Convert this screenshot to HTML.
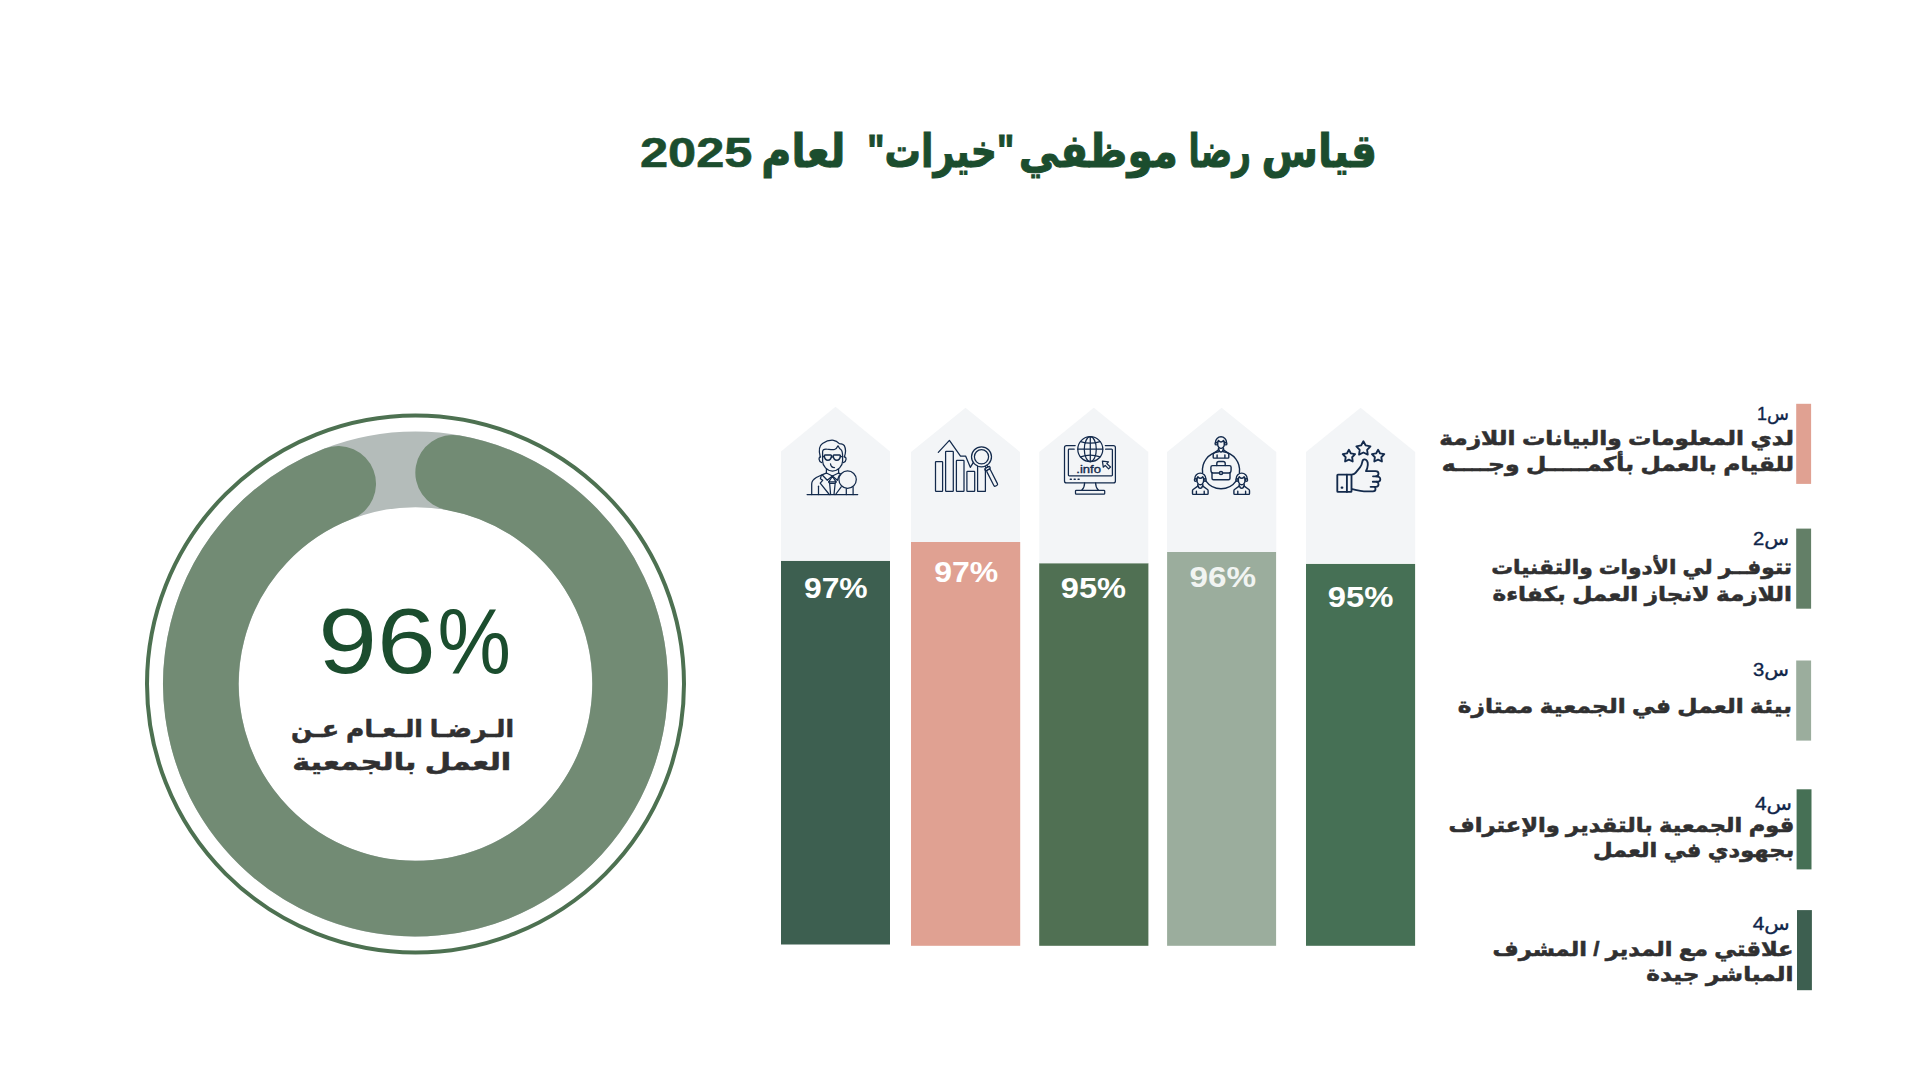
<!DOCTYPE html>
<html lang="ar">
<head>
<meta charset="utf-8">
<title>قياس رضا موظفي "خيرات" لعام 2025</title>
<style>
html,body{margin:0;padding:0;background:#fff;}
body{width:1920px;height:1080px;overflow:hidden;position:relative;font-family:"Liberation Sans","DejaVu Sans",sans-serif;}
.slide{position:absolute;left:0;top:0;width:1920px;height:1080px;background:#fff;overflow:hidden;}
svg{position:absolute;display:block;overflow:visible;}
svg text{font-family:"Liberation Sans","DejaVu Sans",sans-serif;}
.ar{font-weight:bold;fill:#303031;stroke:#303031;stroke-width:.55px;direction:rtl;}
.q{fill:#0f2549;stroke:#0f2549;stroke-width:.35px;direction:rtl;}
.pct{font-weight:bold;fill:#fff;}
.ico{fill:none;stroke:#132a4c;stroke-width:1.25;stroke-linecap:round;stroke-linejoin:round;}
</style>
</head>
<body>
<main class="slide">

<!-- TITLE -->
<svg id="title" style="left:600px;top:100px" width="820" height="120" viewBox="600 100 820 120" font-weight="bold" fill="#1b4d2e" stroke="#1b4d2e" stroke-width="1">
<g font-size="46" direction="rtl" lengthAdjust="spacingAndGlyphs">
<text x="1377" y="166.5" textLength="115.5" lengthAdjust="spacingAndGlyphs">قياس</text>
<text x="1251" y="166.5" textLength="62.4" lengthAdjust="spacingAndGlyphs">رضا</text>
<text x="1178" y="166.5" textLength="159.2" lengthAdjust="spacingAndGlyphs">موظفي</text>
<text x="1014.3" y="166.5" textLength="147.1" lengthAdjust="spacingAndGlyphs">"خيرات"</text>
<text x="845.5" y="166.5" textLength="84.2" lengthAdjust="spacingAndGlyphs">لعام</text>
</g>
<text x="640" y="167" font-size="42.5" textLength="112.5" lengthAdjust="spacingAndGlyphs" stroke-width=".6">2025</text>
</svg>

<!-- DONUT -->
<svg id="donut" style="left:120px;top:390px" width="600" height="590" viewBox="120 390 600 590">
<circle cx="415.5" cy="684" r="268.5" fill="none" stroke="#4d7151" stroke-width="4"/>
<circle cx="415.5" cy="684" r="214.6" fill="none" stroke="#b4bcba" stroke-width="75.6"/>
<path id="arc" d="M453.13,472.73 A214.6,214.6 0 1 1 338.24,483.79" fill="none" stroke="#728b74" stroke-width="75.6" stroke-linecap="round"/>
<text y="673.3" font-size="92" fill="#1b4d2e" lengthAdjust="spacingAndGlyphs"><tspan x="318.2" textLength="117.5" lengthAdjust="spacingAndGlyphs">96</tspan><tspan x="437.6" textLength="73.4" lengthAdjust="spacingAndGlyphs">%</tspan></text>
<text class="ar" x="514" y="737" font-size="24" textLength="223" lengthAdjust="spacingAndGlyphs">الـرضـا الـعـام عـن</text>
<text class="ar" x="511.2" y="769.5" font-size="24" textLength="219" lengthAdjust="spacingAndGlyphs">العمل بالجمعية</text>
</svg>

<!-- PENTAGONS + LABELS -->
<svg id="cols" style="left:770px;top:400px" width="660" height="560" viewBox="770 400 660 560">
<rect class="bar" x="781" y="560.8" width="109" height="383.7" fill="#3d5f50"/>
<rect class="bar" x="911" y="542" width="109.2" height="403.8" fill="#e0a192"/>
<rect class="bar" x="1039.2" y="563.2" width="109.2" height="382.6" fill="#507053"/>
<rect class="bar" x="1167.1" y="552" width="109" height="393.8" fill="#9bad9d"/>
<rect class="bar" x="1306" y="563.9" width="109.1" height="381.9" fill="#467055"/>
<polygon fill="#f3f5f7" points="781,560.8 781,451.5 835.5,406.8 890,451.5 890,560.8"/>
<polygon fill="#f3f5f7" points="911,542 911,452 965.5,407.7 1020,452 1020,542"/>
<polygon fill="#f3f5f7" points="1039.3,563.3 1039.3,452 1093.8,407.7 1148.3,452 1148.3,563.3"/>
<polygon fill="#f3f5f7" points="1167,552 1167,452 1221.6,407.7 1276.3,452 1276.3,552"/>
<polygon fill="#f3f5f7" points="1306,562.9 1306,452 1360.6,407.7 1415.2,452 1415.2,562.9"/>
<text class="pct" x="835.8" y="597.9" font-size="29.5" text-anchor="middle" textLength="63.7" lengthAdjust="spacingAndGlyphs">97%</text>
<text class="pct" x="966.3" y="582" font-size="29.5" text-anchor="middle" textLength="64" lengthAdjust="spacingAndGlyphs">97%</text>
<text class="pct" x="1093.4" y="597.9" font-size="29.5" text-anchor="middle" textLength="65.2" lengthAdjust="spacingAndGlyphs">95%</text>
<text class="pct" x="1222.8" y="587" font-size="29.5" text-anchor="middle" textLength="66.6" lengthAdjust="spacingAndGlyphs" style="fill:#f1f4f2">96%</text>
<text class="pct" x="1360.7" y="607" font-size="29.5" text-anchor="middle" textLength="65.7" lengthAdjust="spacingAndGlyphs">95%</text>
</svg>

<!-- ICONS -->

<!-- icon 1: employee with magnifier -->
<svg class="ico" style="left:800px;top:432px" width="70" height="70" viewBox="0 0 70 70">
<path d="M7.1 62.5H57.7"/>
<path d="M20.3 25C18.6 19 19.4 13.6 22.5 11.5C26 9.2 30 7.9 33.5 8.3C36 8.7 38 10.3 39.3 11.6C41.5 11.8 43.5 12.3 44.3 13.6C45.8 16.5 45.8 21 44.3 25"/>
<path d="M22.6 24.5V19.8C22.6 17.5 24 17 26 17C29 17.2 32 18.3 34.5 17.5C36.5 16.8 37.5 15 38 13.8C38.8 15.5 39.5 16.8 40.8 17.5C42.3 18.5 42.6 21 42.6 24.5"/>
<path d="M22.6 24.5V29C22.6 34 27 39 32.5 39C38 39 42.6 34 42.6 29V24.5"/>
<path d="M20.6 24.8C18.4 24.8 18.4 29.8 21.8 30.6M44.5 24.8C46.7 24.8 46.7 29.8 43.4 30.6"/>
<path d="M25.1 23.1H30.7C31.3 23.1 31.6 23.5 31.5 24.1C31.2 26.6 29.8 28.2 27.9 28.2C26 28.2 24.6 26.6 24.3 24.1C24.2 23.5 24.5 23.1 25.1 23.1Z" stroke-width="1.5"/>
<path d="M34 23.1H39.6C40.2 23.1 40.5 23.5 40.4 24.1C40.1 26.6 38.7 28.2 36.8 28.2C34.9 28.2 33.5 26.6 33.2 24.1C33.1 23.5 33.4 23.1 34 23.1Z" stroke-width="1.5"/>
<path d="M31.4 25.2Q32.4 24.4 33.4 25.2M22.6 24.5H24.4M40.4 24.5H42.6"/>
<path d="M30.5 31.8C30.8 34 32.5 35.5 34.5 35.5"/>
<path d="M26.4 37.3V41M38.6 37.3V41"/>
<path d="M26.4 41L32.4 44L38.6 41"/>
<path d="M22.5 43.2L27.3 48.3L32.4 44L37.3 48.3L39.5 43"/>
<path d="M26.4 41C20 43.5 11.7 46.5 11.7 52V62.5"/>
<path d="M18.5 54.2V62.5"/>
<path d="M21.4 43.2L20.4 46.7L22.7 48.3L20.2 51.2L29.3 62.5"/>
<path d="M32.4 44.5L28.7 49.9H36.1Z"/>
<path d="M29.6 51L30.6 62.5M35.2 51L34 62.5M28.7 49.9L29.6 51.3H35.2L36.1 49.9"/>
<path d="M35.6 62.5L41.2 54.8M38.6 41L40.5 41.8"/>
<circle cx="47.6" cy="47.6" r="8.7" fill="#f3f5f7"/>
<path d="M46.3 56.5V62.5M53.1 55V62.5"/>
</svg>

<!-- icon 2: bar chart with magnifier -->
<svg class="ico" style="left:930px;top:432px" width="70" height="70" viewBox="0 0 70 70">
<rect x="5.5" y="29.5" width="7.1" height="29.8" rx="0.6"/>
<rect x="15.6" y="19.4" width="7.7" height="39.9" rx="0.6"/>
<rect x="26.4" y="28.4" width="7.6" height="30.9" rx="0.6"/>
<rect x="36.9" y="39.4" width="7.8" height="19.9" rx="0.6"/>
<path d="M47.6 34V59.3H55.4V37"/>
<path d="M8.3 20.4L19.4 8.4L30.5 24.1H35.6L40.3 35.3L43.1 30.8"/>
<circle cx="51.5" cy="24.8" r="10"/>
<circle cx="51.5" cy="24.8" r="7.1"/>
<g transform="translate(51.5 24.8) rotate(-27)">
<path d="M-1 10V12M1 10V12"/>
<rect x="-2.8" y="12" width="5.6" height="2.5" rx="1"/>
<rect x="-2" y="14.5" width="4" height="18" rx="1.4"/>
</g>
</svg>

<!-- icon 3: monitor with globe -->
<svg class="ico" style="left:1058px;top:432px" width="70" height="70" viewBox="0 0 70 70">
<path d="M17.2 13.6H8.5a2 2 0 0 0-2 2V48.9a2 2 0 0 0 2 2H55.4a2 2 0 0 0 2-2V15.6a2 2 0 0 0-2-2H47.3"/>
<path d="M16.2 17.2H11.2a.8.8 0 0 0-.8.8V43.1a.8.8 0 0 0 .8.8H53.6a.8.8 0 0 0 .8-.8V18a.8.8 0 0 0-.8-.8H47.6"/>
<circle cx="32.3" cy="17.2" r="12.5"/>
<ellipse cx="32.3" cy="17.2" rx="6" ry="12.5"/>
<path d="M32.3 4.7V29.7M19.8 17.2H44.8"/>
<path d="M22.6 9.6Q32.3 12.8 42 9.6M22.6 24.8Q32.3 21.6 42 24.8"/>
<text x="18.3" y="40.7" font-size="10.5" fill="#132a4c" stroke="#132a4c" stroke-width=".35" textLength="24.6" lengthAdjust="spacingAndGlyphs">.info</text>
<path d="M44.4 29.2L50.5 29.8L48.8 31.6L52.5 35L50.6 36.9L47.2 33.4L45.3 35.2Z"/>
<path d="M12.3 47.2H13.3M16.2 47.2H17.2M20.1 47.2H21.1" stroke-width="1.5"/>
<path d="M26.6 50.9C26.6 54.5 25 57 23.7 58.2M37.6 50.9C37.6 54.5 39.2 57 40.5 58.2"/>
<rect x="17.5" y="58.3" width="29.2" height="3.9" rx="0.8"/>
</svg>

<!-- icon 4: team around briefcase -->
<svg class="ico" style="left:1186px;top:432px;stroke-width:1.4" width="70" height="70" viewBox="0 0 70 70">
<defs>
<g id="person">
<path d="M-5.5 .3A5.5 5.5 0 0 1 5.5 .3"/>
<path d="M-3.3 .2L-2.5-1.6Q0 1.6 2.5-1.6L3.3 .2"/>
<path d="M-3.3 0V2.5C-3.3 4.8-1.6 6.4 0 6.4C1.6 6.4 3.3 4.8 3.3 2.5V0"/>
<circle cx="-4.7" cy="1.7" r="1.2"/><circle cx="4.7" cy="1.7" r="1.2"/>
<path d="M-2.5 6.2V7.8M2.5 6.2V7.8"/>
<path d="M-1.9 8C-1.9 10.6 1.9 10.6 1.9 8"/>
<path d="M-2.5 7.8L-7.2 11.2C-7.7 11.6-7.8 11.9-7.8 12.4V15.3a.8.8 0 0 0 .8.8H7a.8.8 0 0 0 .8-.8V12.4C7.8 11.9 7.7 11.6 7.2 11.2L2.5 7.8"/>
<path d="M-3.9 13V15.5M3.9 13V15.5"/>
</g>
</defs>
<path d="M16.6 40.6A18.6 18.6 0 0 1 32.5 19.8M37.5 19.8A18.6 18.6 0 0 1 53.4 40.6M50.2 48.9A18.6 18.6 0 0 1 19.8 48.9"/>
<use href="#person" x="35" y="10"/>
<use href="#person" x="14.3" y="46.3"/>
<use href="#person" x="55.7" y="46.3"/>
<path d="M30.8 33.6V31.5a2 2 0 0 1 2-2h4.4a2 2 0 0 1 2 2V33.6"/>
<path d="M26.6 33.6H43.4a1.7 1.7 0 0 1 1.7 1.7V38C45.1 39.8 44.4 41 43 41H27C25.6 41 24.9 39.8 24.9 38V35.3a1.7 1.7 0 0 1 1.7-1.7Z"/>
<path d="M26 40.6V46.2a1.5 1.5 0 0 0 1.5 1.5H42.5a1.5 1.5 0 0 0 1.5-1.5V40.6"/>
<circle cx="35" cy="41" r="1.6" fill="#aeb6c2"/>
</svg>

<!-- icon 5: thumbs up with stars -->
<svg class="ico" style="left:1325px;top:432px;stroke-width:1.85" width="70" height="70" viewBox="0 0 70 70">
<polygon points="38.40,9.20 40.69,13.44 45.44,14.31 42.11,17.81 42.75,22.59 38.40,20.50 34.05,22.59 34.69,17.81 31.36,14.31 36.11,13.44"/>
<polygon points="23.90,17.70 25.90,21.45 30.08,22.19 27.13,25.25 27.72,29.46 23.90,27.60 20.08,29.46 20.67,25.25 17.72,22.19 21.90,21.45"/>
<polygon points="53.10,17.70 55.10,21.45 59.28,22.19 56.33,25.25 56.92,29.46 53.10,27.60 49.28,29.46 49.87,25.25 46.92,22.19 51.10,21.45"/>
<rect x="12.3" y="42.6" width="14.2" height="17.3" rx="0.6"/>
<path d="M21.9 42.6V59.9"/>
<path d="M16.7 55.7H17.3" stroke-width="2.2"/>
<path d="M26.5 42.6C28.5 42.6 29.5 42 30.5 40.8L35 35.3C36.5 33.5 37 31.5 37.3 29.8C37.7 27.8 38.8 27.2 39.8 27.4C42 28 43 30 42.8 33C42.6 35.5 42 37.5 41 39.1H50.5C52.5 39.1 53.5 40.1 53.5 41.6C53.5 43.1 52.5 44.3 51 44.3H48"/>
<path d="M51 44.3C54 44.3 55.3 45.6 55.3 47.2C55.3 48.8 54 49.7 52.5 49.7H47.8"/>
<path d="M51.8 49.8C53 50.2 53.5 51.2 53.5 52.3C53.5 53.8 52.3 54.8 51 54.8H45.6"/>
<path d="M49.6 55C50.3 55.5 50.5 56.3 50.5 57C50.5 58.5 49.5 59.3 48 59.3H39C35 59.3 31 58 27 57.2"/>
</svg>


<!-- LEGEND -->
<svg id="legend" style="left:1430px;top:395px" width="390" height="600" viewBox="1430 395 390 600">
<rect class="chip" x="1796.2" y="403.8" width="14.9" height="80.1" fill="#e0a192"/>
<rect class="chip" x="1796.2" y="528.6" width="14.9" height="80.1" fill="#637f67"/>
<rect class="chip" x="1796.2" y="660.5" width="14.9" height="80.1" fill="#9bad9d"/>
<rect class="chip" x="1796.6" y="789.3" width="14.9" height="80.1" fill="#467055"/>
<rect class="chip" x="1797" y="910.1" width="14.9" height="80.1" fill="#3d5f50"/>
<text class="q" x="1789.1" y="420" font-size="17.5" textLength="32.0" lengthAdjust="spacingAndGlyphs">س1</text>
<text class="ar" x="1794.0" y="445" font-size="20" textLength="354.8" lengthAdjust="spacingAndGlyphs">لدي المعلومات والبيانات اللازمة</text>
<text class="ar" x="1794.0" y="470.7" font-size="20" textLength="352.2" lengthAdjust="spacingAndGlyphs">للقيام بالعمل بأكمـــــل وجــــه</text>

<text class="q" x="1789.1" y="545" font-size="17.5" textLength="36.0" lengthAdjust="spacingAndGlyphs">س2</text>
<text class="ar" x="1792.0" y="574" font-size="20" textLength="300.8" lengthAdjust="spacingAndGlyphs">تتوفــر لي الأدوات والتقنيات</text>
<text class="ar" x="1792.0" y="600.7" font-size="20" textLength="299.5" lengthAdjust="spacingAndGlyphs">اللازمة لانجاز العمل بكفاءة</text>

<text class="q" x="1789.1" y="676" font-size="17.5" textLength="36.0" lengthAdjust="spacingAndGlyphs">س3</text>
<text class="ar" x="1792.0" y="713.3" font-size="20" textLength="334.2" lengthAdjust="spacingAndGlyphs">بيئة العمل في الجمعية ممتازة</text>

<text class="q" x="1791.9" y="810" font-size="17.5" textLength="37.0" lengthAdjust="spacingAndGlyphs">س4</text>
<text class="ar" x="1794.2" y="831.8" font-size="20" textLength="345.8" lengthAdjust="spacingAndGlyphs">قوم الجمعية بالتقدير والإعتراف</text>
<text class="ar" x="1794.2" y="857.1" font-size="20" textLength="201.3" lengthAdjust="spacingAndGlyphs">بجهودي في العمل</text>

<text class="q" x="1789.7" y="930.4" font-size="17.5" textLength="37.0" lengthAdjust="spacingAndGlyphs">س4</text>
<text class="ar" x="1793.5" y="955.6" font-size="20" textLength="301.0" lengthAdjust="spacingAndGlyphs">علاقتي مع المدير / المشرف</text>
<text class="ar" x="1793.5" y="981.1" font-size="20" textLength="147.2" lengthAdjust="spacingAndGlyphs">المباشر جيدة</text>
</svg>

</main>
</body>
</html>
